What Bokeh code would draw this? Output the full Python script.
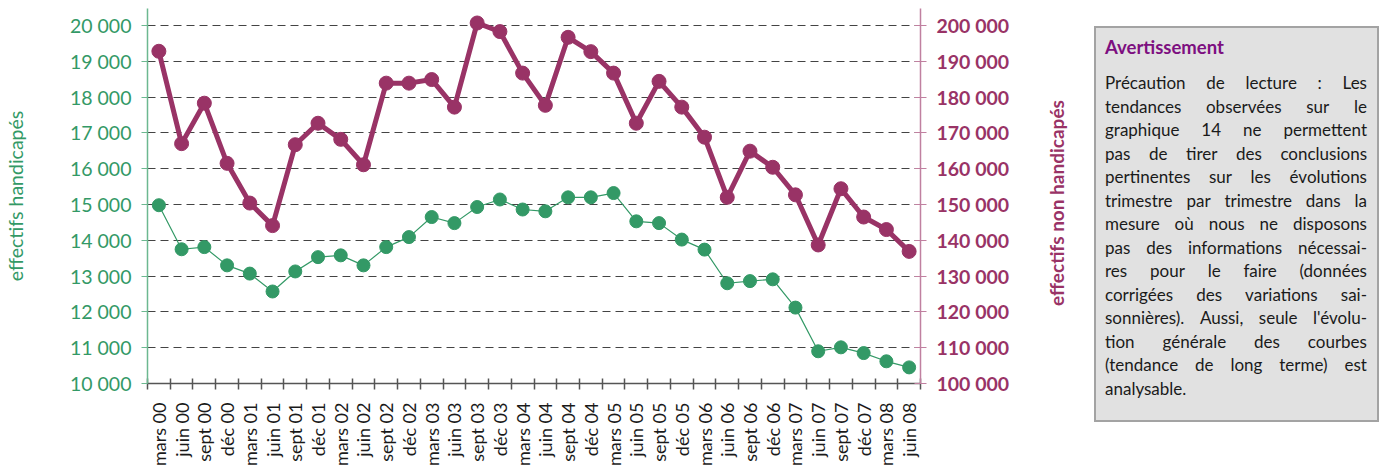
import math
from bokeh.plotting import figure
from bokeh.models import Range1d, LinearAxis, FixedTicker, Div, Grid
from bokeh.layouts import row
from bokeh.embed import file_html
from bokeh.resources import INLINE

categories = ["mars 00", "juin 00", "sept 00", "déc 00",
              "mars 01", "juin 01", "sept 01", "déc 01",
              "mars 02", "juin 02", "sept 02", "déc 02",
              "mars 03", "juin 03", "sept 03", "déc 03",
              "mars 04", "juin 04", "sept 04", "déc 04",
              "mars 05", "juin 05", "sept 05", "déc 05",
              "mars 06", "juin 06", "sept 06", "déc 06",
              "mars 07", "juin 07", "sept 07", "déc 07",
              "mars 08", "juin 08"]

handicapes = [14980, 13750, 13810, 13300,
              13070, 12570, 13130, 13530,
              13580, 13300, 13810, 14090,
              14650, 14480, 14930, 15140,
              14860, 14810, 15200, 15200,
              15320, 14530, 14480, 14020,
              13740, 12800, 12860, 12910,
              12120, 10900, 11010, 10850,
              10620, 10450]

non_handicapes = [192800, 167000, 178300, 161500,
                  150400, 144100, 166700, 172700,
                  168200, 161100, 183900, 183900,
                  184900, 177200, 200700, 198300,
                  186700, 177700, 196700, 192700,
                  186700, 172700, 184400, 177200,
                  168800, 152000, 164900, 160400,
                  152700, 138700, 154400, 146500,
                  143000, 136900]

left_ticks = [10000, 11000, 12000, 13000, 14000, 15000, 16000, 17000, 18000, 19000, 20000]
right_ticks = [100000, 110000, 120000, 130000, 140000, 150000, 160000, 170000, 180000, 190000, 200000]

GREEN = "#339966"
PURPLE = "#993366"
FONT = "Lato"

def fmt(v):
    return f"{v:,}".replace(",", " ")

xs = list(range(1, len(categories) + 1))

p = figure(frame_width=773, frame_height=375,
           x_range=Range1d(0.5, len(categories) + 0.5),
           y_range=Range1d(10000, 20475),
           output_backend="svg", toolbar_location=None,
           min_border_left=147, min_border_right=120,
           min_border_top=8, min_border_bottom=0,
           x_axis_type=None, y_axis_type=None)
p.outline_line_color = None
p.background_fill_color = "white"
p.border_fill_color = "white"

# grid
grid = Grid(dimension=1, ticker=FixedTicker(ticks=left_ticks[1:]),
            grid_line_color="#444444", grid_line_dash="8 5", grid_line_width=1)
p.add_layout(grid)

# x axis
xax = LinearAxis(ticker=FixedTicker(ticks=xs, minor_ticks=[i + 0.5 for i in range(len(categories) + 1)]))
xax.major_label_overrides = {x: c for x, c in zip(xs, categories)}
xax.major_label_orientation = math.pi / 2
xax.major_tick_in = 0
xax.major_tick_out = 0
xax.minor_tick_in = 5
xax.minor_tick_out = 6
xax.minor_tick_line_color = "#555555"
xax.minor_tick_line_width = 1.5
xax.axis_line_color = "#555555"
xax.axis_line_width = 1.5
xax.major_label_text_font = FONT
xax.major_label_text_font_size = "18px"
xax.major_label_text_color = "#1a1a1a"
xax.major_label_standoff = 13
p.add_layout(xax, "below")

# left axis
yax = LinearAxis(ticker=FixedTicker(ticks=left_ticks))
yax.major_label_overrides = {v: fmt(v) for v in left_ticks}
yax.axis_label = "effectifs handicapés"
yax.axis_label_text_font = FONT
yax.axis_label_text_font_style = "normal"
yax.axis_label_text_font_size = "19.5px"
yax.axis_label_text_color = GREEN
yax.axis_label_standoff = 40
yax.major_label_text_font = FONT
yax.major_label_text_font_size = "19.5px"
yax.major_label_text_color = GREEN
yax.major_label_standoff = 10
yax.major_tick_in = 0
yax.major_tick_out = 6
yax.major_tick_line_color = "#6cb890"
yax.minor_tick_line_color = None
yax.axis_line_color = "#6cb890"
yax.axis_line_width = 1.5
p.add_layout(yax, "left")

# right axis
p.extra_y_ranges = {"right": Range1d(100000, 204750)}
rax = LinearAxis(y_range_name="right", ticker=FixedTicker(ticks=right_ticks))
rax.major_label_overrides = {v: fmt(v) for v in right_ticks}
rax.major_label_text_font = FONT
rax.major_label_text_font_style = "bold"
rax.major_label_text_font_size = "19.5px"
rax.major_label_text_color = PURPLE
rax.major_label_standoff = 10
rax.major_tick_in = 6
rax.major_tick_out = 6
rax.major_tick_line_color = "#c080a0"
rax.minor_tick_line_color = None
rax.axis_line_color = "#c080a0"
rax.axis_line_width = 1.5
p.add_layout(rax, "right")

# series
p.line(xs, non_handicapes, y_range_name="right", line_color=PURPLE, line_width=5)
p.scatter(xs, non_handicapes, y_range_name="right", size=14, fill_color=PURPLE, line_color=PURPLE)
p.line(xs, handicapes, line_color=GREEN, line_width=1.2)
p.scatter(xs, handicapes, size=13, fill_color=GREEN, line_color=GREEN)

# right axis title, reading bottom-to-top
right_title_html = (
    '<div style="position:relative;width:54px;height:420px;">'
    '<div style="position:absolute;left:17px;top:203px;transform:translate(-50%,-50%) rotate(-90deg);'
    f'white-space:nowrap;font-family:Lato;font-weight:bold;font-size:19px;color:{PURPLE};">'
    'effectifs non handicapés</div></div>'
)
right_title = Div(text=right_title_html, width=54, height=420, margin=(0, 0, 0, 0))

lines = ["Précaution de lecture : Les",
         "tendances observées sur le",
         "graphique 14 ne permettent",
         "pas de tirer des conclusions",
         "pertinentes sur les évolutions",
         "trimestre par trimestre dans la",
         "mesure où nous ne disposons",
         "pas des informations nécessai-",
         "res pour le faire (données",
         "corrigées des variations sai-",
         "sonnières). Aussi, seule l'évolu-",
         "tion générale des courbes",
         "(tendance de long terme) est",
         "analysable."]

def line_html(t, last):
    if last:
        return f'<div style="white-space:nowrap;">{t}</div>'
    words = "".join(f"<span>{w}</span>" for w in t.split(" "))
    return f'<div style="display:flex;justify-content:space-between;white-space:nowrap;">{words}</div>'

body = "".join(line_html(t, i == len(lines) - 1) for i, t in enumerate(lines))

html = (
    '<div style="box-sizing:border-box;width:285px;height:396px;background:#e1e1e1;'
    'border:2px solid #a3a3a3;padding:8px 10px 0 9px;font-family:Lato;color:#1a1a1a;">'
    '<div style="color:#7d0f80;font-weight:bold;font-size:18.5px;line-height:22px;margin-bottom:13px;">Avertissement</div>'
    f'<div style="font-size:17px;line-height:23.5px;">{body}</div>'
    '</div>'
)
box = Div(text=html, width=285, height=396, margin=(26, 0, 0, 0))

layout = row(p, right_title, box)
open("out.html", "w").write(file_html(layout, INLINE))
